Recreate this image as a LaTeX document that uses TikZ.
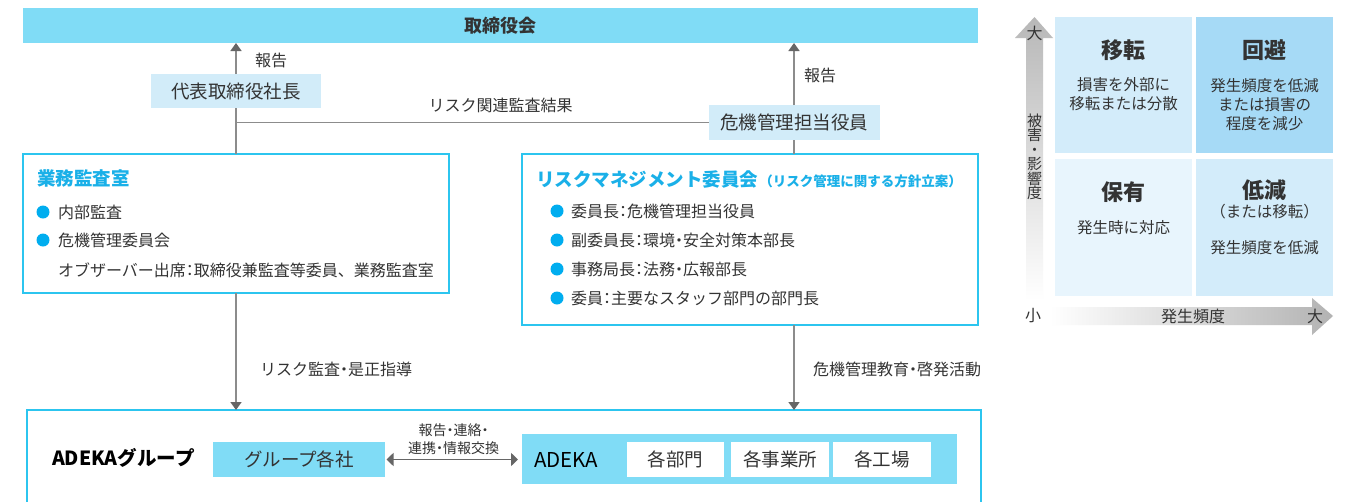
\documentclass[tikz,border=0pt]{standalone}
\usepackage{fontspec}
\setmainfont{Noto Sans CJK JP}
\usetikzlibrary{arrows.meta}
\definecolor{boardc}{HTML}{80DCF6}
\definecolor{lightc}{HTML}{D2ECF9}
\definecolor{cyanb}{HTML}{2CC5EF}
\definecolor{titlec}{HTML}{1AB0E8}
\definecolor{bulc}{HTML}{00ADEF}
\definecolor{txt}{HTML}{333333}
\definecolor{linec}{HTML}{8C8C8C}
\definecolor{tipc}{HTML}{666666}
\definecolor{mA}{HTML}{D3ECFA}
\definecolor{mB}{HTML}{A6DAF6}
\definecolor{mC}{HTML}{E8F5FD}
\newcommand\myfA{\fontsize{16}{19}\selectfont}
\newcommand\myfB{\fontsize{18.5}{22}\selectfont}
\newcommand\myfC{\fontsize{14}{18.5}\selectfont}
\newcommand\myfM{\fontsize{15.5}{19}\selectfont}
\newcommand\hc[1]{\makebox[0.5em][c]{#1}}
\newcommand\hl[1]{\makebox[0.5em][r]{#1}}
\newcommand\hr[1]{\makebox[0.5em][l]{#1}}
\begin{document}
\begin{tikzpicture}[x=1pt,y=-1pt,
  every node/.style={inner sep=0pt, outer sep=0pt, text=txt},
  box/.style={draw=cyanb, line width=1.5pt, fill=white},
  conn/.style={draw=linec, line width=1.6pt},
  uparrow/.style={conn, -{Triangle[width=11pt,length=8pt,color=tipc]}},
  dblarrow/.style={draw=tipc, line width=1.6pt, {Triangle[width=13pt,length=7pt]}-{Triangle[width=13pt,length=7pt]}},
  lbl/.style={font=\myfA},
  cell/.style={minimum width=137, minimum height=136},
  ctitle/.style={font=\fontsize{22}{26}\selectfont\bfseries},
  cbody/.style={font=\myfM, align=center}]
\clip (0,0) rectangle (1365,501);
\fill[white] (0,0) rectangle (1365,501);

% top
\node[fill=boardc, minimum width=955, minimum height=35] (board) at (500.5,25.5) {\fontsize{18}{22}\selectfont\bfseries 取締役会};
\node[fill=lightc, minimum width=170, minimum height=34] (pres) at (236,91) {\myfB 代表取締役社長};
\node[fill=lightc, minimum width=171, minimum height=35] (cro) at (794,122.5) {\myfB 危機管理担当役員};

% boxes
\node[box, minimum width=426, minimum height=139] (audit) at (236,223.5) {};
\node[box, minimum width=456, minimum height=171] (rmc) at (750,239.5) {};
\node[box, minimum width=954, minimum height=130] (grp) at (504,475) {};

% connectors
\draw[uparrow] (pres.north) -- (pres.north |- board.south);
\draw[uparrow] (cro.north) -- (cro.north |- board.south);
\coordinate (j) at (pres.south |- cro.west);
\draw[conn] (pres.south) -- (pres.south |- audit.north);
\draw[conn, line width=1.3pt] (j) -- (cro.west);
\draw[conn] (cro.south) -- (cro.south |- rmc.north);
\draw[uparrow] (pres.south |- audit.south) -- (pres.south |- grp.north);
\draw[uparrow] (cro.south |- rmc.south) -- (cro.south |- grp.north);

\node[lbl] (l1) at (271,60) {報告};
\node[lbl] (l2) at (820,75) {報告};
\node[lbl] (l3) at (500.5,105) {リスク関連監査結果};
\node[lbl, anchor=west] (l4) at (260,369) {リスク監査\hc{・}是正指導};
\node[lbl, anchor=west] (l5) at (813,369) {危機管理教育\hc{・}啓発活動};

% audit box contents
\node[anchor=west, text=titlec, font=\fontsize{18.5}{22}\selectfont\bfseries] (auditT) at (37,178) {業務監査室};
\fill[bulc] (43,212) circle (6.5);
\fill[bulc] (43,240) circle (6.5);
\node[anchor=west, lbl] (a1) at (58,212) {内部監査};
\node[anchor=west, lbl] (a2) at (58,240) {危機管理委員会};
\node[anchor=west, lbl] (a3) at (58,270) {オブザーバー出席\hc{：}取締役兼監査等委員、業務監査室};

% rmc contents
\node[anchor=west, text=titlec, font=\fontsize{18.5}{22}\selectfont\bfseries] (rmcT) at (536,179) {リスクマネジメント委員会\hspace{8pt}{\fontsize{13.5}{15}\selectfont\hl{（}リスク管理に関する方針立案\hr{）}}};
\foreach \yy in {211,240,269,298} { \fill[bulc] (557,\yy) circle (6.5); }
\node[anchor=west, lbl] (r1) at (571,211) {委員長\hc{：}危機管理担当役員};
\node[anchor=west, lbl] (r2) at (571,240) {副委員長\hc{：}環境\hc{・}安全対策本部長};
\node[anchor=west, lbl] (r3) at (571,269) {事務局長\hc{：}法務\hc{・}広報部長};
\node[anchor=west, lbl] (r4) at (571,298) {委員\hc{：}主要なスタッフ部門の部門長};

% bottom contents
\node[anchor=west, font=\fontsize{19.5}{22}\selectfont\bfseries, text=black] (grpT) at (52,458) {ADEKAグループ};
\node[fill=boardc, minimum width=172, minimum height=35] (gco) at (299,459.5) {\fontsize{18.5}{22}\selectfont グループ各社};
\node[fill=boardc, minimum width=435, minimum height=50] (adeka) at (739.5,459) {};
\node[anchor=west, font=\fontsize{20.5}{22}\selectfont, text=black] (adekaT) at (534,460) {ADEKA};
\node[fill=white, minimum width=97, minimum height=35] (d1) at (675.5,459.5) {\fontsize{18.5}{22}\selectfont 各部門};
\node[fill=white, minimum width=98, minimum height=35] (d2) at (780,459.5) {\fontsize{18.5}{22}\selectfont 各事業所};
\node[fill=white, minimum width=98, minimum height=35] (d3) at (882,459.5) {\fontsize{18.5}{22}\selectfont 各工場};
\draw[dblarrow, shorten <=1.5pt, shorten >=4pt] (gco.east) -- (gco.east -| adeka.west);
\node[font=\myfC, align=center] (ex) at (453.5,439) {報告\hc{・}連絡\hc{・}\\連携\hc{・}情報交換};

% matrix
\shade[top color=black!28, bottom color=white] (1026,300) -- (1026,38) -- (1015,38) -- (1034.5,17) -- (1053,38) -- (1043,38) -- (1043,300) -- cycle;
\shade[left color=white, right color=black!30] (1050,307) -- (1312,307) -- (1312,298) -- (1333,316) -- (1312,335) -- (1312,325) -- (1050,325) -- cycle;
\node[lbl] (big1) at (1034.5,33) {大};
\node[font=\fontsize{15}{14.5}\selectfont, align=center] (vax) at (1034.5,157) {被\\害\\・\\影\\響\\度};
\node[lbl] (small) at (1033,316) {小};
\node[lbl] (hax) at (1193,316) {発生頻度};
\node[lbl] (big2) at (1315,316) {大};

\node[cell, fill=mA] (m1) at (1123.5,85) {};
\node[cell, fill=mB] (m2) at (1264.5,85) {};
\node[cell, fill=mC, minimum height=137] (m3) at (1123.5,227.5) {};
\node[cell, fill=mA, minimum height=137] (m4) at (1264.5,227.5) {};
\node[ctitle] (t1) at (1123.5,50) {移転};
\node[cbody] (b1) at (1123.5,94) {損害を外部に\\移転または分散};
\node[ctitle] (t2) at (1264.5,50) {回避};
\node[cbody] (b2) at (1264.5,105) {発生頻度を低減\\または損害の\\程度を減少};
\node[ctitle] (t3) at (1123.5,192) {保有};
\node[cbody] (b3) at (1123.5,228) {発生時に対応};
\node[ctitle] (t4) at (1264.5,190) {低減};
\node[cbody] (b4a) at (1264.5,212) {\hl{（}または移転\hr{）}};
\node[cbody] (b4) at (1264.5,248) {発生頻度を低減};
\end{tikzpicture}
\end{document}
